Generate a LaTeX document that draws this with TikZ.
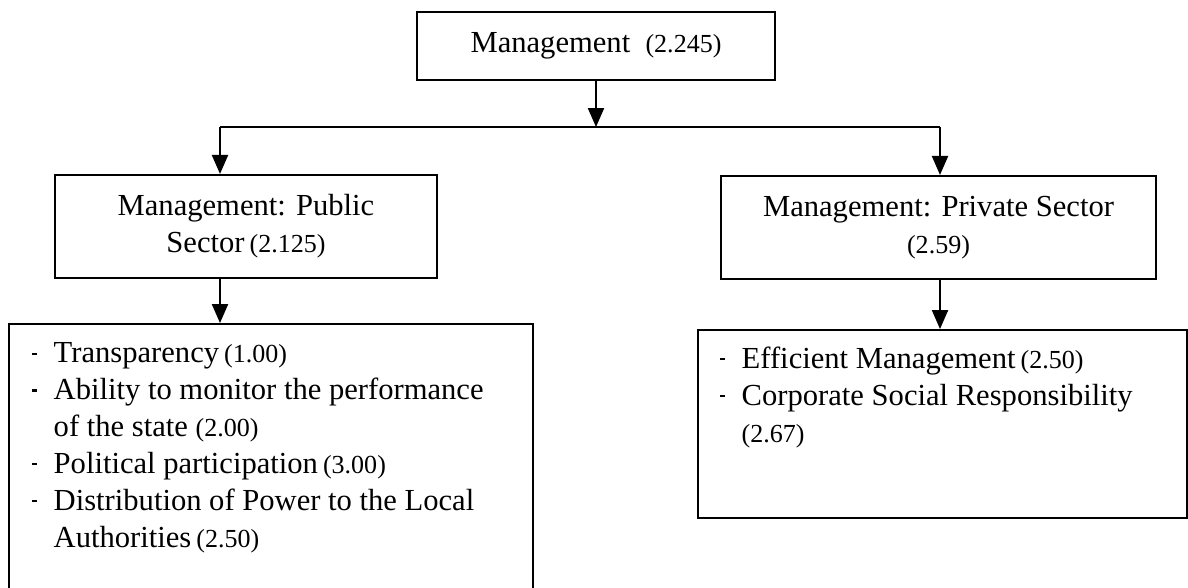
\documentclass[tikz,border=0pt]{standalone}
\usepackage{fontspec}
\setmainfont{Liberation Serif}
\usetikzlibrary{arrows.meta}

\newcommand{\val}[1]{{\fontsize{7.4pt}{10.5pt}\selectfont #1}}
\newcommand{\itm}{\makebox[0.23cm][l]{\hspace*{0.4pt}\rule[2.2pt]{1.4pt}{0.6pt}}}
\newcommand{\cnt}{\hspace*{0.23cm}}

\begin{document}
\begin{tikzpicture}[x=0.01cm,y=-0.01cm,
    every node/.style={font=\fontsize{8.7pt}{10.5pt}\selectfont},
    box/.style={draw,line width=0.6pt,inner sep=0pt,align=center},
    listbox/.style={draw,line width=0.6pt,inner sep=0pt,anchor=north west},
    listtext/.style={inner sep=0pt,align=left,anchor=base west},
    arr/.style={line width=0.45pt,-{Triangle[length=5.4pt,width=4.6pt]}}]
  \useasboundingbox (0,0) rectangle (1188,587);

  % boxes
  \node[box,minimum width=3.58cm,minimum height=0.68cm] (mgmt) at (596,46)
    {Management\ \ \val{(2.245)}};
  \node[box,minimum width=3.82cm,minimum height=1.03cm] (pubsec) at (246,226.5)
    {Management: Public\\Sector\,\val{(2.125)}};
  \node[box,minimum width=4.35cm,minimum height=1.03cm] (privsec) at (938.5,227.5)
    {Management: Private Sector\\\val{(2.59)}};
  \node[listbox,minimum width=5.24cm,minimum height=2.77cm] (publist) at (8,323) {};
  \node[listbox,minimum width=4.89cm,minimum height=1.88cm] (privlist) at (697,329) {};

  % lists (base = last line)
  \node[listtext] (pubitems) at (30,547)
    {\itm Transparency\,\val{(1.00)}\\
     \itm Ability to monitor the performance\\
     \cnt of the state \val{(2.00)}\\
     \itm Political participation\,\val{(3.00)}\\
     \itm Distribution of Power to the Local\\
     \cnt Authorities\,\val{(2.50)}};
  \node[listtext] (privitems) at (718,442)
    {\itm Efficient Management\,\val{(2.50)}\\
     \itm Corporate Social Responsibility\\
     \cnt\val{(2.67)}};

  % connectors
  \coordinate (split) at (596,127);
  \coordinate (lft) at (220,127);
  \coordinate (rgt) at (940,127);
  \draw[arr] (mgmt.south) -- (split);
  \draw[line width=0.45pt] (lft) -- (rgt);
  \draw[arr] (lft) -- (lft |- pubsec.north);
  \draw[arr] (rgt) -- (rgt |- privsec.north);
  \draw[arr] (lft |- pubsec.south) -- (lft |- publist.north);
  \draw[arr] (rgt |- privsec.south) -- (rgt |- privlist.north);
\end{tikzpicture}
\end{document}
